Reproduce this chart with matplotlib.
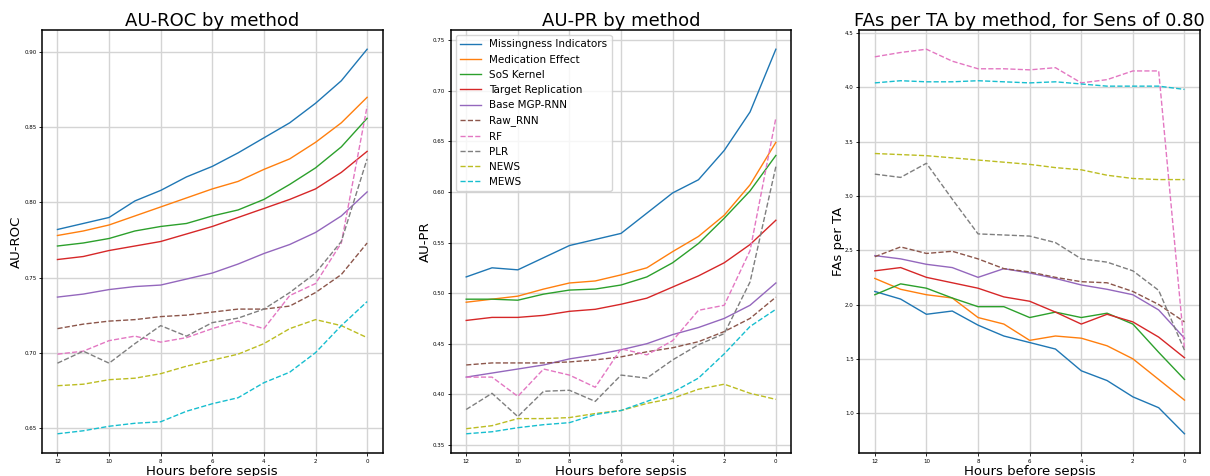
import matplotlib
matplotlib.use("Agg")
import matplotlib.pyplot as plt

hours = [12, 11, 10, 9, 8, 7, 6, 5, 4, 3, 2, 1, 0]

methods = ["Missingness Indicators", "Medication Effect", "SoS Kernel",
           "Target Replication", "Base MGP-RNN", "Raw_RNN", "RF", "PLR",
           "NEWS", "MEWS"]
styles = ["-", "-", "-", "-", "-", "--", "--", "--", "--", "--"]

# AU-ROC per method, 12h .. 0h before sepsis
auroc = {
    "Missingness Indicators": [0.782, 0.786, 0.790, 0.801, 0.808, 0.817, 0.824, 0.833, 0.843, 0.853, 0.866, 0.881, 0.902],
    "Medication Effect": [0.778, 0.781, 0.785, 0.791, 0.797, 0.803, 0.809, 0.814, 0.822, 0.829, 0.840, 0.853, 0.870],
    "SoS Kernel": [0.771, 0.773, 0.776, 0.781, 0.784, 0.786, 0.791, 0.795, 0.802, 0.812, 0.823, 0.837, 0.856],
    "Target Replication": [0.762, 0.764, 0.768, 0.771, 0.774, 0.779, 0.784, 0.790, 0.796, 0.802, 0.809, 0.820, 0.834],
    "Base MGP-RNN": [0.737, 0.739, 0.742, 0.744, 0.745, 0.749, 0.753, 0.759, 0.766, 0.772, 0.780, 0.791, 0.807],
    "Raw_RNN": [0.716, 0.719, 0.721, 0.722, 0.724, 0.725, 0.727, 0.729, 0.729, 0.731, 0.740, 0.752, 0.773],
    "RF": [0.699, 0.701, 0.708, 0.711, 0.707, 0.710, 0.716, 0.721, 0.716, 0.738, 0.746, 0.773, 0.864],
    "PLR": [0.693, 0.701, 0.693, 0.706, 0.718, 0.711, 0.720, 0.723, 0.729, 0.740, 0.753, 0.774, 0.829],
    "NEWS": [0.678, 0.679, 0.682, 0.683, 0.686, 0.691, 0.695, 0.699, 0.706, 0.716, 0.722, 0.718, 0.710],
    "MEWS": [0.646, 0.648, 0.651, 0.653, 0.654, 0.661, 0.666, 0.670, 0.680, 0.687, 0.700, 0.718, 0.734],
}

auprc = {
    "Missingness Indicators": [0.516, 0.525, 0.523, 0.535, 0.547, 0.553, 0.559, 0.579, 0.599, 0.612, 0.641, 0.679, 0.741],
    "Medication Effect": [0.491, 0.494, 0.497, 0.504, 0.510, 0.512, 0.518, 0.525, 0.541, 0.556, 0.577, 0.607, 0.649],
    "SoS Kernel": [0.494, 0.494, 0.493, 0.499, 0.503, 0.504, 0.508, 0.516, 0.530, 0.549, 0.574, 0.601, 0.636],
    "Target Replication": [0.473, 0.476, 0.476, 0.478, 0.482, 0.484, 0.489, 0.495, 0.506, 0.517, 0.530, 0.548, 0.572],
    "Base MGP-RNN": [0.417, 0.421, 0.425, 0.429, 0.435, 0.439, 0.444, 0.450, 0.459, 0.466, 0.475, 0.488, 0.510],
    "Raw_RNN": [0.429, 0.431, 0.431, 0.431, 0.432, 0.434, 0.437, 0.442, 0.446, 0.452, 0.462, 0.475, 0.496],
    "RF": [0.417, 0.417, 0.398, 0.425, 0.419, 0.407, 0.445, 0.439, 0.453, 0.483, 0.488, 0.542, 0.673],
    "PLR": [0.385, 0.401, 0.378, 0.403, 0.404, 0.393, 0.419, 0.416, 0.434, 0.449, 0.460, 0.511, 0.625],
    "NEWS": [0.366, 0.369, 0.376, 0.376, 0.377, 0.381, 0.384, 0.391, 0.396, 0.405, 0.410, 0.401, 0.395],
    "MEWS": [0.361, 0.363, 0.367, 0.370, 0.372, 0.380, 0.384, 0.393, 0.402, 0.416, 0.440, 0.467, 0.484],
}

fas_per_ta = {
    "Missingness Indicators": [2.12, 2.05, 1.91, 1.94, 1.81, 1.71, 1.65, 1.59, 1.39, 1.30, 1.15, 1.05, 0.81],
    "Medication Effect": [2.24, 2.14, 2.09, 2.06, 1.88, 1.82, 1.67, 1.71, 1.69, 1.62, 1.50, 1.31, 1.12],
    "SoS Kernel": [2.09, 2.19, 2.15, 2.06, 1.98, 1.98, 1.88, 1.93, 1.88, 1.92, 1.82, 1.56, 1.31],
    "Target Replication": [2.31, 2.34, 2.25, 2.20, 2.15, 2.07, 2.03, 1.93, 1.82, 1.91, 1.84, 1.70, 1.51],
    "Base MGP-RNN": [2.45, 2.42, 2.37, 2.34, 2.25, 2.33, 2.29, 2.24, 2.18, 2.14, 2.09, 1.95, 1.69],
    "Raw_RNN": [2.44, 2.53, 2.47, 2.49, 2.42, 2.33, 2.30, 2.25, 2.21, 2.20, 2.12, 2.00, 1.84],
    "RF": [4.28, 4.32, 4.35, 4.24, 4.17, 4.17, 4.16, 4.18, 4.04, 4.07, 4.15, 4.15, 1.59],
    "PLR": [3.20, 3.17, 3.30, 2.97, 2.65, 2.64, 2.63, 2.57, 2.42, 2.39, 2.31, 2.13, 1.58],
    "NEWS": [3.39, 3.38, 3.37, 3.35, 3.33, 3.31, 3.29, 3.26, 3.24, 3.19, 3.16, 3.15, 3.15],
    "MEWS": [4.04, 4.06, 4.05, 4.05, 4.06, 4.05, 4.04, 4.05, 4.03, 4.01, 4.01, 4.01, 3.98],
}

panels = [
    (auroc, "AU-ROC by method", "AU-ROC", 0.0347, -0.056),
    (auprc, "AU-PR by method", "AU-PR", 0.3725, -0.055),
    (fas_per_ta, "FAs per TA by method, for Sens of 0.80", "FAs per TA", 0.7102, -0.042),
]

fig = plt.figure(figsize=(12.1, 4.76), dpi=100)
colors = plt.rcParams["axes.prop_cycle"].by_key()["color"]

for i, (data, title, ylab, left, ylab_x) in enumerate(panels):
    ax = fig.add_axes([left, 0.0483, 0.2815, 0.8887])
    for j, m in enumerate(methods):
        ax.plot(hours, data[m], linestyle=styles[j], color=colors[j],
                linewidth=1.0, label=m)
    ax.invert_xaxis()
    ax.grid(True, color="#d4d4d4", linewidth=1.0)
    ax.set_axisbelow(True)
    ax.tick_params(labelsize=4, length=2, width=0.6, pad=2)
    for s in ax.spines.values():
        s.set_linewidth(1.1)
    ax.set_title(title, fontsize=13, pad=3)
    ax.set_xlabel("Hours before sepsis", fontsize=9.5, labelpad=1)
    ax.set_ylabel(ylab, fontsize=9.5)
    ax.yaxis.set_label_coords(ylab_x, 0.5)
    if i == 1:
        ax.legend(loc="upper left", fontsize=7.5, handlelength=2.0,
                  labelspacing=0.5, borderpad=0.4)

fig.savefig("out.png", dpi=100)
